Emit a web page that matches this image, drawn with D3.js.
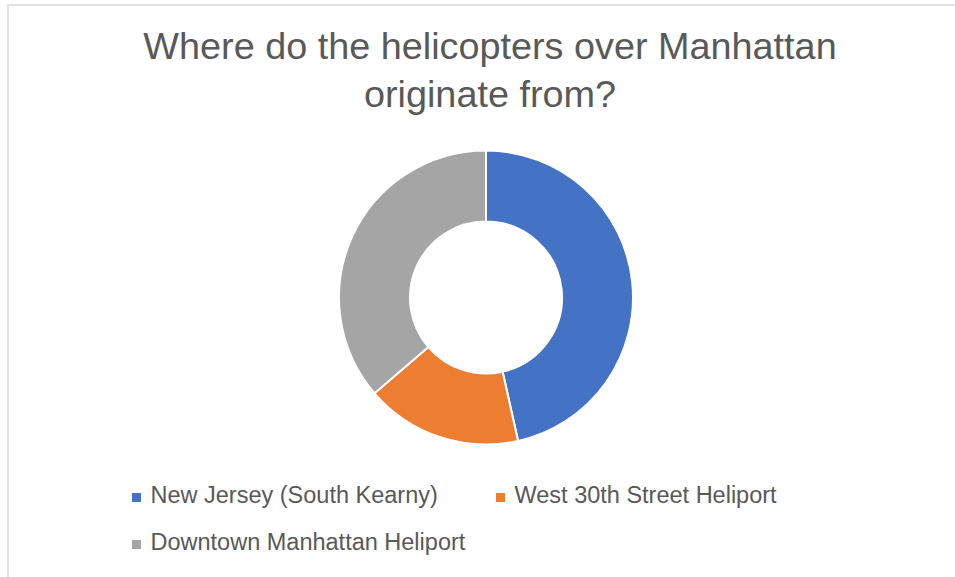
<!DOCTYPE html>
<html>
<head>
<meta charset="utf-8">
<script src="https://cdn.jsdelivr.net/npm/d3@7"></script>
<style>
  html, body { margin: 0; padding: 0; background: #ffffff; }
  svg { display: block; }
  text { font-family: "Liberation Sans", Arial, Helvetica, sans-serif; fill: #595959; }
</style>
</head>
<body>
<svg id="chart" width="955" height="577"></svg>
<script>
// Share of helicopter flights over Manhattan by departure site (percent)
const categories = [
  "New Jersey (South Kearny)",
  "West 30th Street Heliport",
  "Downtown Manhattan Heliport"
];
const values = [46.5, 17.2, 36.3];
const colors = ["#4472C4", "#ED7D31", "#A5A5A5"];
const titleLines = ["Where do the helicopters over Manhattan", "originate from?"];

const width = 955, height = 577;
const svg = d3.select("#chart");

svg.append("rect").attr("width", width).attr("height", height).attr("fill", "#ffffff");

// Chart area frame (top and left edges visible)
svg.append("line").attr("x1", 8).attr("x2", width).attr("y1", 5).attr("y2", 5)
  .attr("stroke", "#e3e3e3").attr("stroke-width", 2);
svg.append("line").attr("x1", 8).attr("x2", 8).attr("y1", 4).attr("y2", height)
  .attr("stroke", "#e3e3e3").attr("stroke-width", 2);

// Title
svg.append("g").selectAll("text")
  .data(titleLines)
  .join("text")
  .attr("x", 490)
  .attr("y", (d, i) => 59 + i * 48)
  .attr("text-anchor", "middle")
  .attr("font-size", 37.8)
  .text(d => d);

// Donut
const cx = 486, cy = 297.5, outerR = 147, innerR = 76;
const pie = d3.pie().sort(null).value(d => d);
const arc = d3.arc().innerRadius(innerR).outerRadius(outerR);
const color = d3.scaleOrdinal().domain(categories).range(colors);

svg.append("g")
  .attr("transform", `translate(${cx},${cy})`)
  .selectAll("path")
  .data(pie(values))
  .join("path")
  .attr("d", arc)
  .attr("fill", (d, i) => color(categories[i]))
  .attr("stroke", "#ffffff")
  .attr("stroke-width", 2)
  .attr("stroke-linejoin", "round");

// Legend
const legendPos = [
  { x: 132, y: 503 },
  { x: 496, y: 503 },
  { x: 132, y: 550 }
];
const legend = svg.append("g").selectAll("g")
  .data(categories)
  .join("g")
  .attr("transform", (d, i) => `translate(${legendPos[i].x},${legendPos[i].y})`);

legend.append("rect")
  .attr("x", 0).attr("y", -10)
  .attr("width", 9).attr("height", 9)
  .attr("fill", d => color(d));

legend.append("text")
  .attr("x", 18.5)
  .attr("y", 0)
  .attr("font-size", 23.5)
  .text(d => d);
</script>
</body>
</html>
